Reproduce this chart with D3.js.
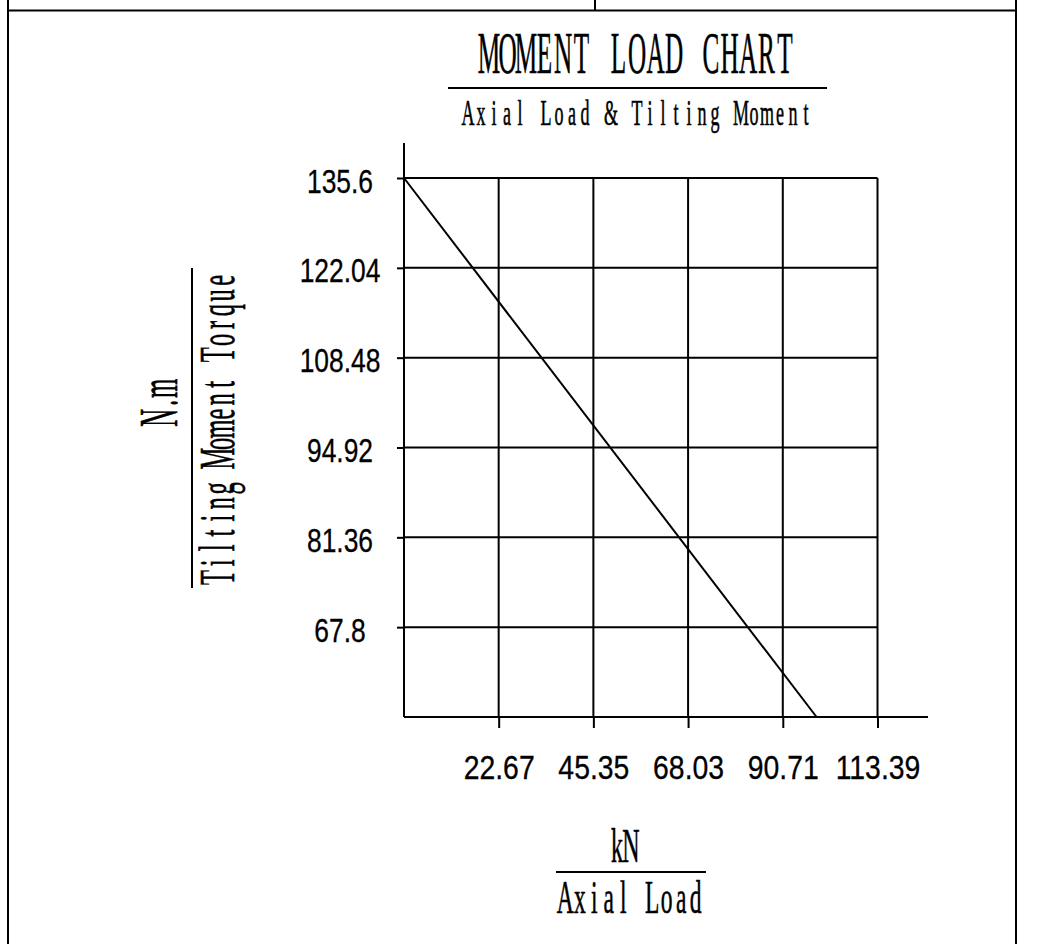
<!DOCTYPE html>
<html>
<head>
<meta charset="utf-8">
<script src="https://cdn.jsdelivr.net/npm/d3@7"></script>
<style>
  html, body { margin: 0; padding: 0; background: #fff; }
  svg { display: block; }
</style>
</head>
<body>
<script>
// ---- data ----
const xTicks = [22.67, 45.35, 68.03, 90.71, 113.39];
const xTickLabels = ["22.67", "45.35", "68.03", "90.71", "113.39"];
const yTicks = [135.6, 122.04, 108.48, 94.92, 81.36, 67.8];
const yTickLabels = ["135.6", "122.04", "108.48", "94.92", "81.36", "67.8"];
const xDomain = [0, 113.39];
const yDomain = [54.24, 135.6];
const lineX = [0, 98.8];
const lineY = [135.6, 54.24];

const W = 1049, H = 944;
const svg = d3.select("body").append("svg").attr("width", W).attr("height", H);

// page frame
const frame = svg.append("g").attr("stroke", "#000").attr("stroke-width", 2).attr("fill", "none");
frame.append("line").attr("x1", 8).attr("x2", 8).attr("y1", 0).attr("y2", H);
frame.append("line").attr("x1", 1016).attr("x2", 1016).attr("y1", 0).attr("y2", H);
frame.append("line").attr("x1", 8).attr("x2", 1016).attr("y1", 10.5).attr("y2", 10.5);
frame.append("line").attr("x1", 595).attr("x2", 595).attr("y1", 0).attr("y2", 10.5);

const serif = "'Liberation Serif', 'DejaVu Serif', serif";
const sans = "'Liberation Sans', Arial, sans-serif";

// fixed-pitch, horizontally condensed serif text (CAD-style lettering)
function monoText(g, txt, cx, cy, size, cell, sx, rotate) {
  const n = txt.length;
  const xs = d3.range(n).map(i => ((i - (n - 1) / 2) * cell / sx).toFixed(2));
  return g.append("text")
    .attr("font-family", serif)
    .attr("font-size", size)
    .attr("text-anchor", "middle")
    .attr("fill", "#000")
    .attr("stroke", "#000")
    .attr("stroke-width", 0.6)
    .attr("x", xs.join(" "))
    .attr("y", 0)
    .attr("transform", `translate(${cx},${cy})${rotate ? " rotate(-90)" : ""} scale(${sx},1)`)
    .text(txt);
}

// titles
const tg = svg.append("g");
monoText(tg, "MOMENT LOAD CHART", 637, 73, 60, 18.5, 0.42);
tg.append("line").attr("x1", 448).attr("x2", 827).attr("y1", 88).attr("y2", 88)
  .attr("stroke", "#000").attr("stroke-width", 2);
monoText(tg, "Axial Load & Tilting Moment", 637, 125, 36, 13, 0.5);

// y-axis title
monoText(tg, "N.m", 177, 403, 54, 14.7, 0.46, true);
tg.append("line").attr("x1", 192).attr("x2", 192).attr("y1", 268).attr("y2", 588)
  .attr("stroke", "#000").attr("stroke-width", 2);
monoText(tg, "Tilting Moment Torque", 234, 429, 51, 14.86, 0.48, true);

// x-axis title
monoText(tg, "kN", 624, 862, 48, 14, 0.5);
tg.append("line").attr("x1", 556).attr("x2", 706).attr("y1", 872).attr("y2", 872)
  .attr("stroke", "#000").attr("stroke-width", 2);
monoText(tg, "Axial Load", 630.5, 913, 47, 14.5, 0.5);

// scales
const x = d3.scaleLinear().domain(xDomain).range([404, 877.5]);
const y = d3.scaleLinear().domain(yDomain).range([717, 178]);

const plot = svg.append("g");

// grid lines
const grid = plot.append("g").attr("stroke", "#000").attr("stroke-width", 2);
grid.selectAll("line.h").data(yTicks).join("line").attr("class", "h")
  .attr("x1", x(0)).attr("x2", x(xDomain[1]))
  .attr("y1", d => y(d)).attr("y2", d => y(d));
grid.selectAll("line.v").data(xTicks).join("line").attr("class", "v")
  .attr("x1", d => x(d)).attr("x2", d => x(d))
  .attr("y1", y(yDomain[1])).attr("y2", y(yDomain[0]));

// axis lines
grid.append("line").attr("x1", x(0)).attr("x2", x(0)).attr("y1", y(yDomain[1]) - 35).attr("y2", y(yDomain[0]));
grid.append("line").attr("x1", x(0)).attr("x2", x(xDomain[1]) + 50.5).attr("y1", y(yDomain[0])).attr("y2", y(yDomain[0]));

const SX = 0.8;
// x axis
const xAxis = d3.axisBottom(x).tickValues(xTicks).tickSize(11).tickPadding(0)
  .tickFormat((d, i) => xTickLabels[i]);
const gx = plot.append("g").attr("transform", `translate(0,${y(yDomain[0])})`).call(xAxis);
gx.select(".domain").remove();
gx.selectAll(".tick line").attr("stroke", "#000").attr("stroke-width", 2);
gx.selectAll(".tick text")
  .attr("font-family", sans).attr("font-size", 33).attr("fill", "#000")
  .attr("stroke", "#000").attr("stroke-width", 0.3)
  .attr("text-anchor", "middle")
  .attr("dy", null)
  .attr("y", 62)
  .attr("x", 0)
  .attr("transform", `scale(0.86,1)`);

// y axis
const yAxis = d3.axisLeft(y).tickValues(yTicks).tickSize(7).tickPadding(0)
  .tickFormat((d, i) => yTickLabels[i]);
const gy = plot.append("g").attr("transform", `translate(${x(0)},0)`).call(yAxis);
gy.select(".domain").remove();
gy.selectAll(".tick line").attr("stroke", "#000").attr("stroke-width", 2);
gy.selectAll(".tick text")
  .attr("font-family", sans).attr("font-size", 33).attr("fill", "#000")
  .attr("stroke", "#000").attr("stroke-width", 0.3)
  .attr("text-anchor", "middle")
  .attr("dy", null)
  .attr("y", 14)
  .attr("x", -64 / SX)
  .attr("transform", `scale(${SX},1)`);

// load line
const pts = lineX.map((v, i) => [v, lineY[i]]);
plot.append("path")
  .datum(pts)
  .attr("fill", "none").attr("stroke", "#000").attr("stroke-width", 2)
  .attr("d", d3.line().x(d => x(d[0])).y(d => y(d[1])));
</script>
</body>
</html>
